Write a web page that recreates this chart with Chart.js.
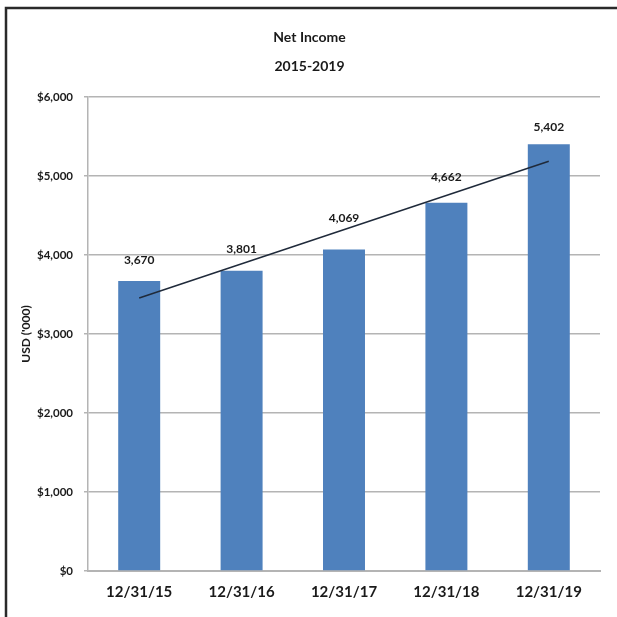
<!DOCTYPE html>
<html>
<head>
<meta charset="utf-8">
<title>Net Income 2015-2019</title>
<script src="https://cdn.jsdelivr.net/npm/chart.js@4"></script>
<style>
  body { margin: 0; background: #fff; }
  canvas { display: block; }
</style>
</head>
<body>
<canvas id="incomeChart" width="617" height="617"></canvas>
<script>
// year-end dates and net income, USD thousands
var periods = ["12/31/15", "12/31/16", "12/31/17", "12/31/18", "12/31/19"];
var netIncome = [3670, 3801, 4069, 4662, 5402];
// linear trend, only the two ends are drawn
var trendLine = [3456, null, null, null, 5186];
var yTicks = [0, 1000, 2000, 3000, 4000, 5000, 6000];

Chart.defaults.font.family = "Lato, 'Liberation Sans', sans-serif";
Chart.defaults.color = "#1a1a1a";

// frame lines along the top and left edge
var framePlugin = {
  id: "frame",
  beforeDraw: function (chart) {
    var c = chart.ctx;
    c.save();
    c.fillStyle = "#fff";
    c.fillRect(0, 0, chart.width, chart.height);
    c.strokeStyle = "#2a2a2a";
    c.lineWidth = 2.5;
    c.beginPath();
    c.moveTo(chart.width, 8);
    c.lineTo(6, 8);
    c.lineTo(6, chart.height);
    c.stroke();
    c.restore();
  }
};

// value labels above each bar
var barLabels = {
  id: "barLabels",
  afterDatasetsDraw: function (chart, args, opts) {
    var meta = chart.getDatasetMeta(0);
    var c = chart.ctx;
    c.save();
    c.font = "bold 12px Lato, 'Liberation Sans', sans-serif";
    c.fillStyle = "#1a1a1a";
    c.textAlign = "center";
    c.textBaseline = "middle";
    meta.data.forEach(function (bar, i) {
      var v = chart.data.datasets[0].data[i];
      c.fillText(v.toLocaleString("en-US"), bar.x, bar.y - opts.gaps[i]);
    });
    c.restore();
  }
};

new Chart(document.getElementById("incomeChart"), {
  type: "bar",
  data: {
    labels: periods,
    datasets: [{
      data: netIncome,
      backgroundColor: "#4f81bd",
      barPercentage: 0.41,
      categoryPercentage: 1,
      order: 1
    }, {
      type: "line",
      data: trendLine,
      spanGaps: true,
      borderColor: "#1f2a3a",
      borderWidth: 1.5,
      pointRadius: 0,
      order: 0
    }]
  },
  options: {
    responsive: false,
    animation: false,
    layout: { padding: { left: 19, right: 17, top: 0, bottom: 0 } },
    plugins: {
      legend: { display: false },
      tooltip: { enabled: false },
      title: {
        display: true,
        text: ["Net Income", "2015-2019"],
        font: { size: 14, weight: "bold", lineHeight: 29 / 14 },
        color: "#1a1a1a",
        padding: { top: 22.5, bottom: 16.5 }
      },
      barLabels: { gaps: [21, 22, 31, 26, 17] }
    },
    scales: {
      x: {
        grid: { display: false, drawTicks: false },
        border: { display: true, color: "#b4b4b4", width: 2 },
        ticks: { font: { size: 15, weight: "bold" }, padding: 12, color: "#1a1a1a" },
        afterFit: function (scale) { scale.height = 46; }
      },
      y: {
        min: 0,
        max: 6000,
        afterBuildTicks: function (scale) {
          scale.ticks = yTicks.map(function (v) { return { value: v }; });
        },
        grid: { color: "#b4b4b4", lineWidth: 1.5, tickLength: 4 },
        border: { display: true, color: "#b4b4b4", width: 1.5 },
        ticks: {
          font: { size: 11.5, weight: "bold" },
          padding: 11,
          color: "#1a1a1a",
          callback: function (v) { return "$" + v.toLocaleString("en-US"); }
        },
        title: {
          display: true,
          text: "USD ('000)",
          font: { size: 12, weight: "bold" },
          color: "#1a1a1a",
          padding: { top: 0, bottom: 0 }
        },
        afterFit: function (scale) { scale.width = 69; }
      }
    }
  },
  plugins: [framePlugin, barLabels]
});
</script>
</body>
</html>
